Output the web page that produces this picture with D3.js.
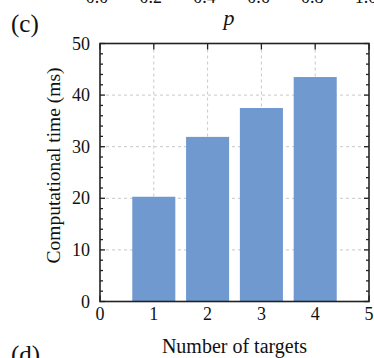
<!DOCTYPE html>
<html>
<head>
<meta charset="utf-8">
<script src="https://cdn.jsdelivr.net/npm/d3@7"></script>
<style>
  body { margin: 0; background: #fff; }
  svg { display: block; }
  text { font-family: "Liberation Serif", "DejaVu Serif", serif; fill: #111; }
</style>
</head>
<body>
<div id="chart"></div>
<script>
// data
const targets = [1, 2, 3, 4];
const times = [20.3, 31.9, 37.5, 43.5];
const xTicks = [0, 1, 2, 3, 4, 5];
const yTicks = [0, 10, 20, 30, 40, 50];
const prevTicks = ['0.0', '0.2', '0.4', '0.6', '0.8', '1.0'];

const width = 374, height = 358;
const mLeft = 100, mRight = 369, mTop = 43.5, mBottom = 301.5;

const svg = d3.select('#chart')
  .append('svg')
  .attr('width', width)
  .attr('height', height);

const x = d3.scaleLinear().domain([0, 5]).range([mLeft, mRight]);
const y = d3.scaleLinear().domain([0, 50]).range([mBottom, mTop]);

// remnants of the panel above (cut off at the top edge, as in the source)
const xPrev = d3.scaleLinear().domain([0, 1]).range([97, 366]);
svg.append('g')
  .selectAll('text')
  .data(prevTicks)
  .join('text')
  .attr('x', d => xPrev(+d))
  .attr('y', 3)
  .attr('text-anchor', 'middle')
  .attr('font-size', 18)
  .text(d => d);

svg.append('text')
  .attr('x', 229)
  .attr('y', 25)
  .attr('text-anchor', 'middle')
  .attr('font-size', 22)
  .attr('font-style', 'italic')
  .text('p');

svg.append('text')
  .attr('x', 11)
  .attr('y', 32)
  .attr('font-size', 25)
  .text('(c)');

svg.append('text')
  .attr('x', 11)
  .attr('y', 363)
  .attr('font-size', 25)
  .text('(d)');

// grid
const grid = svg.append('g')
  .attr('stroke', '#c8c8c8')
  .attr('stroke-width', 1)
  .attr('stroke-dasharray', '3,3');

grid.selectAll('.gx')
  .data(xTicks.slice(1, -1))
  .join('line')
  .attr('x1', d => x(d)).attr('x2', d => x(d))
  .attr('y1', mTop).attr('y2', mBottom);

grid.selectAll('.gy')
  .data(yTicks.slice(1, -1))
  .join('line')
  .attr('x1', mLeft).attr('x2', mRight)
  .attr('y1', d => y(d)).attr('y2', d => y(d));

// ticks
const tickG = svg.append('g')
  .attr('stroke', '#222')
  .attr('stroke-width', 1.3);

const minorY = d3.range(0, 51, 2).filter(v => v % 10 !== 0);

// left/right y ticks
[[mLeft, 1], [mRight, -1]].forEach(([x0, dir]) => {
  tickG.append('g').selectAll('line')
    .data(yTicks)
    .join('line')
    .attr('x1', x0).attr('x2', x0 + dir * 5)
    .attr('y1', d => y(d)).attr('y2', d => y(d));
  tickG.append('g').selectAll('line')
    .data(minorY)
    .join('line')
    .attr('x1', x0).attr('x2', x0 + dir * 3)
    .attr('y1', d => y(d)).attr('y2', d => y(d));
});

// top/bottom x ticks
[[mTop, 1], [mBottom, -1]].forEach(([y0, dir]) => {
  tickG.append('g').selectAll('line')
    .data(xTicks)
    .join('line')
    .attr('x1', d => x(d)).attr('x2', d => x(d))
    .attr('y1', y0).attr('y2', y0 + dir * 6);
});

// bars
svg.append('g')
  .selectAll('rect')
  .data(targets)
  .join('rect')
  .attr('x', d => x(d - 0.4))
  .attr('width', x(0.8) - x(0))
  .attr('y', (d, i) => y(times[i]))
  .attr('height', (d, i) => y(0) - y(times[i]))
  .attr('fill', '#6f99cf');

// frame
svg.append('rect')
  .attr('x', mLeft).attr('y', mTop)
  .attr('width', mRight - mLeft).attr('height', mBottom - mTop)
  .attr('fill', 'none')
  .attr('stroke', '#222')
  .attr('stroke-width', 1.6);

// tick labels
svg.append('g')
  .selectAll('text')
  .data(yTicks)
  .join('text')
  .attr('x', mLeft - 10)
  .attr('y', d => y(d) + 6)
  .attr('text-anchor', 'end')
  .attr('font-size', 18)
  .text(d => d);

svg.append('g')
  .selectAll('text')
  .data(xTicks)
  .join('text')
  .attr('x', d => x(d))
  .attr('y', mBottom + 18)
  .attr('text-anchor', 'middle')
  .attr('font-size', 18)
  .text(d => d);

// axis titles
svg.append('text')
  .attr('x', (mLeft + mRight) / 2)
  .attr('y', 353)
  .attr('text-anchor', 'middle')
  .attr('font-size', 20)
  .text('Number of targets');

svg.append('text')
  .attr('transform', `translate(60, ${(mTop + mBottom) / 2 - 7}) rotate(-90)`)
  .attr('text-anchor', 'middle')
  .attr('font-size', 19.5)
  .text('Computational time (ms)');
</script>
</body>
</html>
